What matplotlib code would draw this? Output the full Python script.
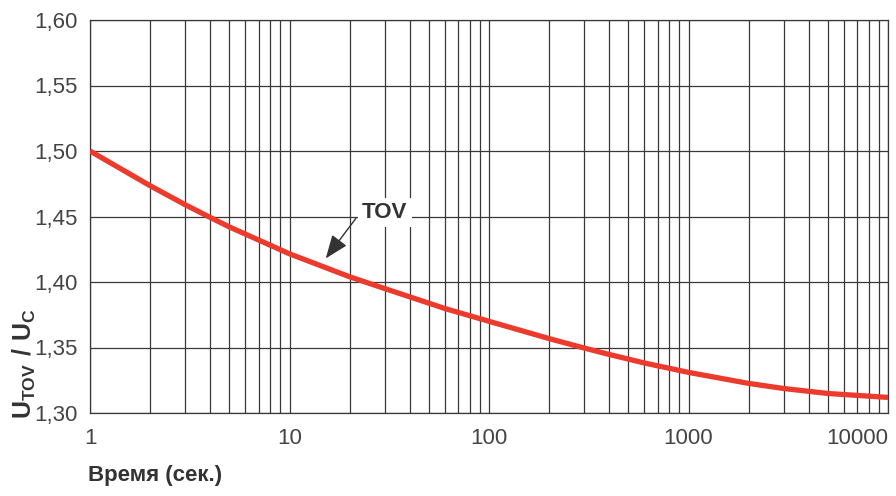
import matplotlib
matplotlib.use("Agg")
import matplotlib.pyplot as plt
from matplotlib.ticker import FixedLocator, NullFormatter

# Curve: time (s) vs U_TOV / U_C
time_s = [1, 2, 3, 4, 5, 10, 20, 30, 40, 60, 100, 200, 300, 400, 600,
          1000, 2000, 3000, 5000, 10000]
ratio = [1.500, 1.4735, 1.459, 1.4493, 1.442, 1.4215, 1.404, 1.395, 1.3887,
         1.3798, 1.370, 1.3568, 1.3496, 1.3447, 1.3382, 1.331, 1.3226,
         1.3187, 1.3149, 1.3119]

x_ticks = [1, 10, 100, 1000, 10000]
x_labels = ["1", "10", "100", "1000", "10000"]
y_ticks = [1.30, 1.35, 1.40, 1.45, 1.50, 1.55, 1.60]
y_labels = ["1,30", "1,35", "1,40", "1,45", "1,50", "1,55", "1,60"]

plt.rcParams["font.family"] = ["Liberation Sans", "DejaVu Sans"]
plt.rcParams["mathtext.fontset"] = "custom"
plt.rcParams["mathtext.rm"] = "Liberation Sans"
plt.rcParams["mathtext.bf"] = "Liberation Sans:bold"

GRID = "#383838"
TEXT = "#444444"
RED = "#ec3b2c"

fig = plt.figure(figsize=(8.96, 4.96), dpi=100)
ax = fig.add_axes([90 / 896, 1 - 413 / 496, 798 / 896, 393 / 496])

ax.set_xscale("log")
ax.set_xlim(1, 10000)
ax.set_ylim(1.30, 1.60)

# grid lines at 2..9 of every decade
minor = [m * 10 ** e for e in range(4) for m in range(2, 10)]
ax.xaxis.set_major_locator(FixedLocator(x_ticks))
ax.xaxis.set_minor_locator(FixedLocator(minor))
ax.xaxis.set_minor_formatter(NullFormatter())
ax.set_xticks(x_ticks, x_labels)
ax.set_yticks(y_ticks, y_labels)

ax.grid(True, which="both", axis="x", color=GRID, linewidth=0.9)
ax.grid(True, which="major", axis="y", color=GRID, linewidth=0.9)
ax.tick_params(which="both", length=0)
ax.tick_params(axis="x", pad=11, labelsize=16, labelcolor=TEXT)
ax.tick_params(axis="y", pad=9, labelsize=16, labelcolor=TEXT)
ax.get_xticklabels()[-1].set_horizontalalignment("right")
for s in ax.spines.values():
    s.set_color(GRID)
    s.set_linewidth(0.9)

ax.plot(time_s, ratio, color=RED, linewidth=3.8, solid_capstyle="butt",
        solid_joinstyle="round", zorder=3)

ax.annotate("", xy=(15.2, 1.418), xytext=(21.5, 1.4485),
            arrowprops=dict(arrowstyle="-|>,head_length=0.9,head_width=0.35",
                            color="#333333", lw=1.0, mutation_scale=16,
                            shrinkA=0, shrinkB=0), zorder=4)
ax.text(30, 1.453, "TOV", fontsize=16, fontweight="bold", color="#333333",
        ha="center", va="center", zorder=5,
        bbox=dict(facecolor="white", edgecolor="none", pad=3))

fig.text(88 / 896, 1 - 475 / 496, "Время (сек.)", fontsize=16,
         fontweight="bold", color="#333333", ha="left", va="center")
fig.text(24 / 896, 1 - 364 / 496, r"$\mathbf{U_{TOV}\ /\ U_{C}}$",
         fontsize=18, color="#333333", rotation=90, ha="center", va="center")

fig.savefig("out.png", dpi=100)
